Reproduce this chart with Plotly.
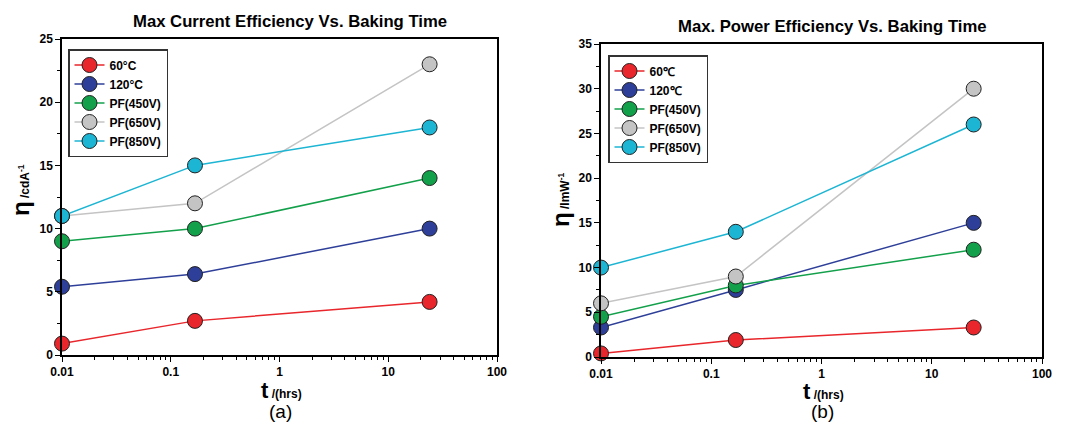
import plotly.graph_objects as go

# ---- data ----
t_hours = [0.01, 0.167, 24]
series_names_a = ["60°C", "120°C", "PF(450V)", "PF(650V)", "PF(850V)"]
series_names_b = ["60℃", "120℃", "PF(450V)", "PF(650V)", "PF(850V)"]
cur_60 = [0.9, 2.7, 4.2]
cur_120 = [5.4, 6.4, 10.0]
cur_450 = [9.0, 10.0, 14.0]
cur_650 = [11.0, 12.0, 23.0]
cur_850 = [11.0, 15.0, 18.0]
pow_60 = [0.4, 1.9, 3.3]
pow_120 = [3.3, 7.5, 15.0]
pow_450 = [4.5, 8.0, 12.0]
pow_650 = [6.0, 9.0, 30.0]
pow_850 = [10.0, 14.0, 26.0]
x_tickvals = [0.01, 0.1, 1, 10, 100]
x_ticktext = ["0.01", "0.1", "1", "10", "100"]

colors = ["#e8262b", "#2e3f99", "#13a04b", "#c4c4c4", "#1cb5d3"]
W, H = 1069, 428
FONT = "Liberation Sans, Arial, sans-serif"

def px(x):
    return x / W

def py(y):
    return 1 - y / H

fig = go.Figure()
cur = [cur_60, cur_120, cur_450, cur_650, cur_850]
pw = [pow_60, pow_120, pow_450, pow_650, pow_850]
for i in range(5):
    fig.add_trace(go.Scatter(
        x=t_hours, y=cur[i], name=series_names_a[i], mode="lines+markers",
        line=dict(color=colors[i], width=1.5),
        marker=dict(size=15, color=colors[i], line=dict(color="#222", width=1)),
        xaxis="x", yaxis="y", legend="legend", cliponaxis=False))
for i in range(5):
    fig.add_trace(go.Scatter(
        x=t_hours, y=pw[i], name=series_names_b[i], mode="lines+markers",
        line=dict(color=colors[i], width=1.5),
        marker=dict(size=15, color=colors[i], line=dict(color="#222", width=1)),
        xaxis="x2", yaxis="y2", legend="legend2", cliponaxis=False))

minor_vals = [k * 10 ** e for e in range(-2, 2) for k in range(2, 10)]

def xax(domain, anchor):
    return dict(type="log", range=[-2, 2], domain=domain, anchor=anchor,
                automargin=False,
                tickvals=x_tickvals, ticktext=x_ticktext,
                ticks="outside", ticklen=5, tickwidth=1.2, tickcolor="black",
                minor=dict(tickvals=minor_vals, ticks="outside", ticklen=3, tickcolor="black"),
                showline=True, linecolor="black", linewidth=1.5, mirror=True,
                showgrid=False, zeroline=False,
                tickfont=dict(family=FONT, size=12, color="black", weight="bold"))

def yax(domain, anchor, top):
    return dict(range=[0, top], domain=domain, anchor=anchor, dtick=5,
                automargin=False,
                ticks="outside", ticklen=5, tickwidth=1.2, tickcolor="black",
                minor=dict(dtick=2.5, ticks="outside", ticklen=3, tickcolor="black"),
                showline=True, linecolor="black", linewidth=1.5, mirror=True,
                showgrid=False, zeroline=False,
                tickfont=dict(family=FONT, size=12, color="black", weight="bold"))

legend_common = dict(xanchor="left", yanchor="top", bgcolor="white",
                     bordercolor="#333", borderwidth=1.5,
                     font=dict(family=FONT, size=12, color="black", weight="bold"),
                     tracegroupgap=0, itemwidth=30)

fig.update_layout(
    width=W, height=H, margin=dict(l=0, r=0, t=0, b=0, autoexpand=False),
    paper_bgcolor="white", plot_bgcolor="white", showlegend=True,
    xaxis=xax([px(62), px(497)], "y"),
    yaxis=yax([py(355), py(39)], "x", 25),
    xaxis2=xax([px(601), px(1042)], "y2"),
    yaxis2=yax([py(357), py(44)], "x2", 35),
    legend=dict(x=px(68), y=py(49), **legend_common),
    legend2=dict(x=px(608), y=py(55), **legend_common),
)

ann = []
def add(text, x, y, size, bold=False, angle=0):
    ann.append(dict(text=text, x=px(x), y=py(y), xref="paper", yref="paper",
                    showarrow=False, textangle=angle, xanchor="center", yanchor="middle",
                    font=dict(family=FONT, size=size, color="black",
                              weight="bold" if bold else "normal")))

add("Max Current Efficiency Vs. Baking Time", 290, 22, 16.7, True)
add("Max. Power Efficiency Vs. Baking Time", 832, 27, 16.7, True)
add("<span style='font-size:24px'>η</span> /cdA<sup>-1</sup>", 20, 190, 12, True, -90)
add("<span style='font-size:24px'>η</span> /lmW<sup>-1</sup>", 560, 200, 12, True, -90)
add("<span style='font-size:22px'>t</span> /(hrs)", 281, 390, 12, True)
add("<span style='font-size:22px'>t</span> /(hrs)", 823, 391, 12, True)
add("(a)", 280, 411, 19)
add("(b)", 822, 411, 19)
fig.update_layout(annotations=ann)

fig.write_html("out.html", config={"displayModeBar": False},
               post_script="document.body.style.margin='0';document.body.style.overflow='hidden';")
